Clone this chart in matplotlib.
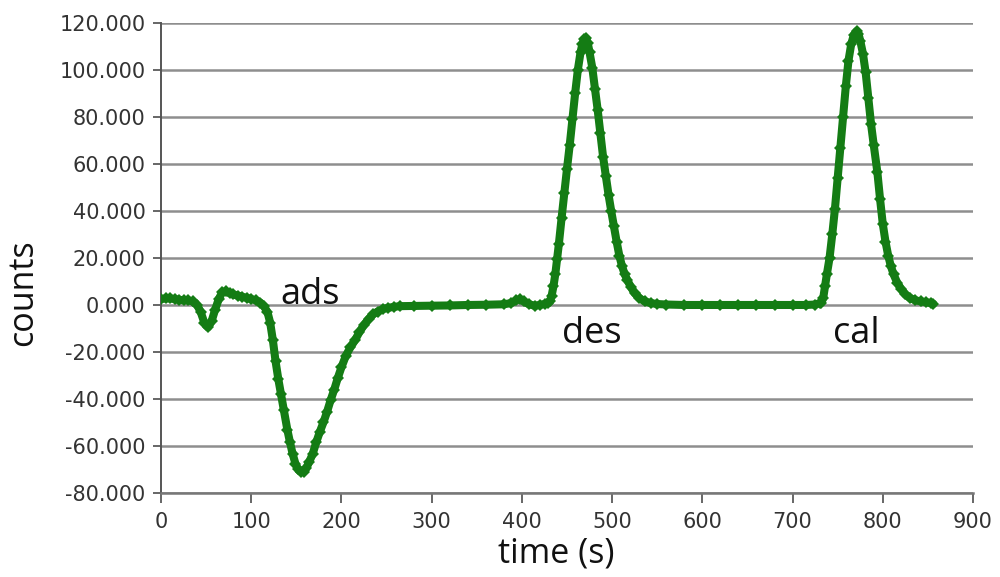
import matplotlib
matplotlib.use("Agg")
import matplotlib.pyplot as plt
from matplotlib.ticker import FuncFormatter, MultipleLocator

# Measured signal: time (s) and counts
time_s = [
    0, 5, 10, 15, 20, 25, 30, 35, 40, 44, 48, 52, 56, 60, 64, 68, 72, 76, 80,
    85, 90, 95, 100, 105, 110, 114, 118, 121, 124, 127, 130, 133, 136, 140,
    143, 146, 149, 152, 155, 158, 161, 164, 168, 172, 176, 180, 184, 188, 192,
    196, 200, 205, 210, 215, 220, 225, 230, 235, 240, 246, 252, 258, 265, 280,
    300, 320, 340, 360, 380, 388, 394, 398, 402, 408, 414, 420, 426, 429, 431,
    433, 435, 437, 439, 441, 444, 447, 450, 453, 456, 459, 462, 465, 467, 469,
    471, 473, 475, 478, 481, 484, 487, 490, 493, 496, 499, 502, 505, 508, 511,
    514, 517, 521, 525, 530, 536, 543, 550, 560, 580, 600, 620, 640, 660, 680,
    700, 715, 725, 730, 732, 734, 736, 738, 741, 744, 747, 750, 753, 756, 759,
    762, 765, 768, 771, 773, 775, 778, 781, 784, 787, 790, 794, 797, 800, 803,
    806, 809, 812, 816, 820, 825, 830, 836, 842, 848, 853, 856,
]
counts = [
    2.5, 2.8, 2.8, 2.5, 2.2, 2.0, 2.0, 1.5, 0.0, -3.0, -7.5, -9.5, -7.0, -2.0,
    2.5, 5.5, 5.8, 5.0, 4.5, 4.0, 3.5, 3.0, 2.5, 2.0, 1.0, -0.5, -3.0, -7.5,
    -15.0, -24.0, -31.5, -38.0, -44.5, -53.0, -58.5, -63.5, -67.5, -70.0,
    -71.0, -71.0, -69.5, -67.0, -63.5, -58.5, -54.0, -50.0, -45.5, -40.5,
    -36.0, -31.0, -26.5, -21.5, -18.0, -15.0, -11.5, -8.5, -6.0, -4.0, -2.8,
    -1.7, -1.2, -0.8, -0.5, -0.4, -0.3, -0.2, 0.0, 0.1, 0.3, 0.8, 2.0, 2.5,
    1.5, 0.3, -0.3, 0.0, 0.5, 0.8, 1.5, 4.0, 8.0, 13.0, 19.5, 26.0, 37.0,
    47.5, 58.0, 68.0, 79.0, 90.0, 100.0, 107.5, 111.0, 113.0, 113.5, 111.5,
    107.5, 101.0, 92.0, 83.0, 73.0, 63.0, 55.0, 47.0, 40.0, 33.5, 27.0, 21.0,
    16.5, 13.0, 10.5, 7.5, 5.0, 3.0, 1.5, 0.8, 0.4, 0.2, 0.0, 0.0, 0.0, 0.0,
    0.0, 0.0, 0.0, 0.0, 0.2, 0.8, 1.0, 3.0, 8.0, 13.0, 20.0, 30.0, 41.0, 54.0,
    67.0, 80.0, 93.0, 104.0, 111.0, 115.0, 116.5, 115.5, 112.5, 107.0, 99.0,
    88.0, 77.0, 68.0, 56.5, 45.0, 34.5, 27.0, 21.0, 16.5, 13.0, 9.5, 7.0, 4.5,
    3.0, 2.0, 1.5, 1.2, 0.8, 0.5,
]

peak_labels = ["ads", "des", "cal"]
peak_label_x = [165, 478, 771]
peak_label_y = [0.5, -16.0, -16.0]

x_limits = (0, 900)
y_limits = (-80, 120)

line_color = "#147c14"
grid_color = "#8e8e8e"
text_color = "#333333"

fig = plt.figure(figsize=(10, 5.77), dpi=100)
ax = fig.add_axes([0.161, 0.1456, 0.812, 0.8146])

ax.plot(time_s, counts, color=line_color, lw=5.8, marker="D", ms=6.5,
        markeredgewidth=0, solid_capstyle="round", zorder=3)

ax.set_xlim(*x_limits)
ax.set_ylim(*y_limits)
ax.xaxis.set_major_locator(MultipleLocator(100))
ax.yaxis.set_major_locator(MultipleLocator(20))
ax.yaxis.set_major_formatter(FuncFormatter(lambda v, _: f"{v:.3f}"))

ax.grid(axis="y", color=grid_color, lw=1.8, zorder=1)
ax.grid(axis="x", visible=False)
for side in ("top", "right"):
    ax.spines[side].set_visible(False)
ax.spines["left"].set_color("#555555")
ax.spines["left"].set_linewidth(1.4)
ax.spines["bottom"].set_color("#777777")
ax.spines["bottom"].set_linewidth(1.8)

ax.tick_params(axis="y", direction="out", length=6, width=1.4,
               color="#666666", labelsize=15, labelcolor=text_color, pad=5)
ax.tick_params(axis="x", direction="out", length=7, width=1.4,
               color="#666666", labelsize=15, labelcolor=text_color, pad=7)
for lbl in ax.get_xticklabels() + ax.get_yticklabels():
    lbl.set_fontfamily("DejaVu Sans")

label_font = dict(family="Open Sans", fontsize=24.5, color="#111111")
ax.set_xlabel("time (s)", va="center", **label_font)
ax.set_ylabel("counts", va="center", **label_font)
ax.xaxis.set_label_coords(0.4865, -0.128)
ax.yaxis.set_label_coords(-0.170, 0.427)

for txt, tx, ty in zip(peak_labels, peak_label_x, peak_label_y):
    ax.text(tx, ty, txt, ha="center", va="baseline", family="Open Sans",
            fontsize=26, color="#111111", zorder=4)

fig.savefig("out.png", dpi=100, facecolor="white")
